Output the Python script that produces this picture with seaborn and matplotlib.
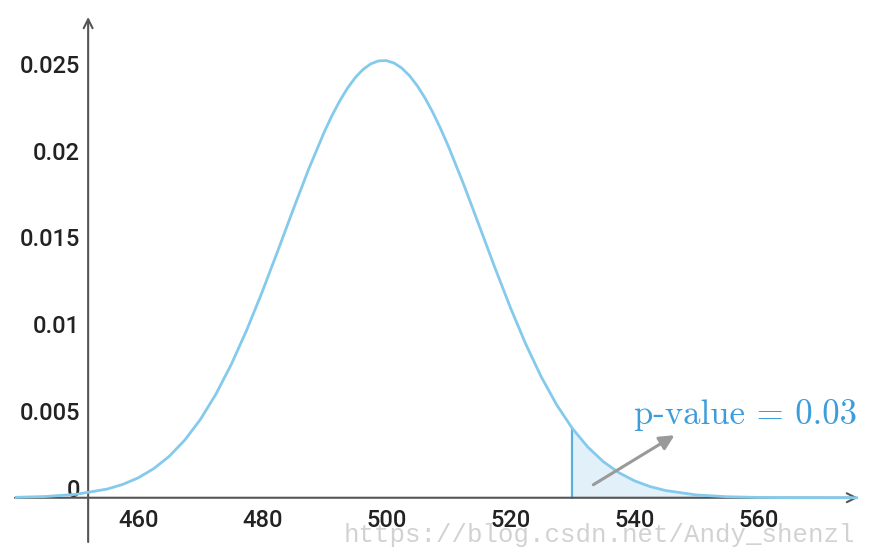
import pandas as pd
import numpy as np
import seaborn as sns
import matplotlib.pyplot as plt
import matplotlib.transforms as mtransforms

# density (denser points around the peak)
x_vals = [440.0, 445.0, 450.0, 455.0, 457.5, 460.0, 462.5, 465.0, 467.5, 470.0,
          472.5, 475.0, 477.5, 480.0, 482.5, 485.0, 487.5, 490.0, 491.25, 492.5,
          493.75, 495.0, 496.25, 497.5, 498.75, 500.0, 501.25, 502.5, 503.75, 505.0,
          506.25, 507.5, 508.75, 510.0, 512.5, 515.0, 517.5, 520.0, 522.5, 525.0,
          527.5, 530.0, 532.5, 535.0, 537.5, 540.0, 542.5, 545.0, 550.0, 555.0,
          560.0, 565.0, 570.0, 576.0]
density = [0.0000229, 0.0000708, 0.000198, 0.000502, 0.000770, 0.001151, 0.001681, 0.002394, 0.003326, 0.004507,
           0.005960, 0.007688, 0.009676, 0.011879, 0.014229, 0.016627, 0.018955, 0.021081, 0.022026, 0.022872,
           0.023605, 0.024211, 0.024679, 0.025001, 0.025172, 0.025188, 0.025048, 0.024755, 0.024316, 0.023737,
           0.023029, 0.022204, 0.021277, 0.020263, 0.018040, 0.015669, 0.013277, 0.010976, 0.008852, 0.006964,
           0.005346, 0.004003, 0.002924, 0.002084, 0.001449, 0.000983, 0.000650, 0.000420, 0.000163, 0.0000570,
           0.0000181, 0.0000052, 0.0000014, 0.0]

x_ticks = [460, 480, 500, 520, 540, 560]
y_ticks = [0, 0.005, 0.01, 0.015, 0.02, 0.025]
y_tick_labels = ['0', '0.005', '0.01', '0.015', '0.02', '0.025']

critical = 530
p_label = 'p-value = 0.03'
watermark = 'https://blog.csdn.net/Andy_shenzl'

df = pd.DataFrame({'x': x_vals, 'density': density})
tail = df[df['x'] >= critical]

sns.set_style('white')
plt.rcParams['font.family'] = ['Roboto', 'DejaVu Sans']

fig = plt.figure(figsize=(8.76, 5.56), dpi=100)
ax = fig.add_axes([15 / 876, 14 / 556, 843 / 876, 525 / 556])

x0, x1 = 440.1, 576.1
y0, y1 = -0.00255, 0.0277
yaxis_x = 451.9
axis_col = '#555555'
curve_col = '#84caec'

# shaded tail
ax.fill_between(tail['x'], 0, tail['density'], color='#e2f0fa', zorder=1)
ax.plot([critical, critical], [0, tail['density'].iloc[0]], color='#5aaee0', lw=1.6, zorder=2)

sns.lineplot(data=df, x='x', y='density', ax=ax, color=curve_col, lw=2.0, zorder=4)

# axis lines with open arrow heads
ax.annotate('', xy=(x1, 0), xytext=(x0, 0),
            arrowprops=dict(arrowstyle='->', color=axis_col, lw=1.5, mutation_scale=16,
                            shrinkA=0, shrinkB=0), zorder=3)
ax.annotate('', xy=(yaxis_x, y1), xytext=(yaxis_x, y0),
            arrowprops=dict(arrowstyle='->', color=axis_col, lw=1.5, mutation_scale=16,
                            shrinkA=0, shrinkB=0), zorder=3)

for s in ax.spines.values():
    s.set_visible(False)

ax.set_xlim(x0, x1)
ax.set_ylim(y0, y1)
ax.set_xlabel('')
ax.set_ylabel('')

ax.set_xticks(x_ticks)
ax.set_xticklabels([str(t) for t in x_ticks])
ax.set_yticks(y_ticks)
ax.set_yticklabels(y_tick_labels)
ax.tick_params(axis='both', direction='out', length=3, width=1, color=axis_col,
               labelsize=17, labelcolor='#222222')
for lab in ax.get_xticklabels() + ax.get_yticklabels():
    lab.set_fontweight('medium')

# shift ticks and labels onto the axis lines drawn in data coords
x_shift = ax.transData.transform((yaxis_x, 0))[0] - ax.transAxes.transform((0, 0))[0]
y_shift = ax.transData.transform((0, 0))[1] - ax.transAxes.transform((0, 0))[1]
off_x = mtransforms.ScaledTranslation(0, y_shift / fig.dpi, fig.dpi_scale_trans)
off_y = mtransforms.ScaledTranslation(x_shift / fig.dpi, 0, fig.dpi_scale_trans)
for tick in ax.xaxis.get_major_ticks():
    tick.tick1line.set_transform(ax.get_xaxis_transform(which='tick1') + off_x)
    tick.label1.set_transform(ax.get_xaxis_text1_transform(8)[0] + off_x)
for i, tick in enumerate(ax.yaxis.get_major_ticks()):
    tick.tick1line.set_transform(ax.get_yaxis_transform(which='tick1') + off_y)
    lift = mtransforms.ScaledTranslation(0, 10 / fig.dpi if i == 0 else 0, fig.dpi_scale_trans)
    tick.label1.set_transform(ax.get_yaxis_text1_transform(6)[0] + off_y + lift)

# p-value note
ax.annotate('', xy=(546.5, 0.0036), xytext=(533.4, 0.00075),
            arrowprops=dict(arrowstyle='-|>', color='#9a9a9a', lw=2.2, mutation_scale=22,
                            shrinkA=0, shrinkB=0), zorder=5)
ax.text(540.0, 0.00425, p_label, family='cmr10', fontsize=25, color='#3d9ddb',
        ha='left', va='baseline', zorder=6)

# watermark, behind the tick labels
ax.text((344 - 15) / 843, -0.00215, watermark, family='Liberation Mono',
        fontsize=18.5, color='#d2d2d2', ha='left', va='center', zorder=0.5,
        transform=mtransforms.blended_transform_factory(ax.transAxes, ax.transData),
        clip_on=False)

fig.savefig('out.png', dpi=100)
